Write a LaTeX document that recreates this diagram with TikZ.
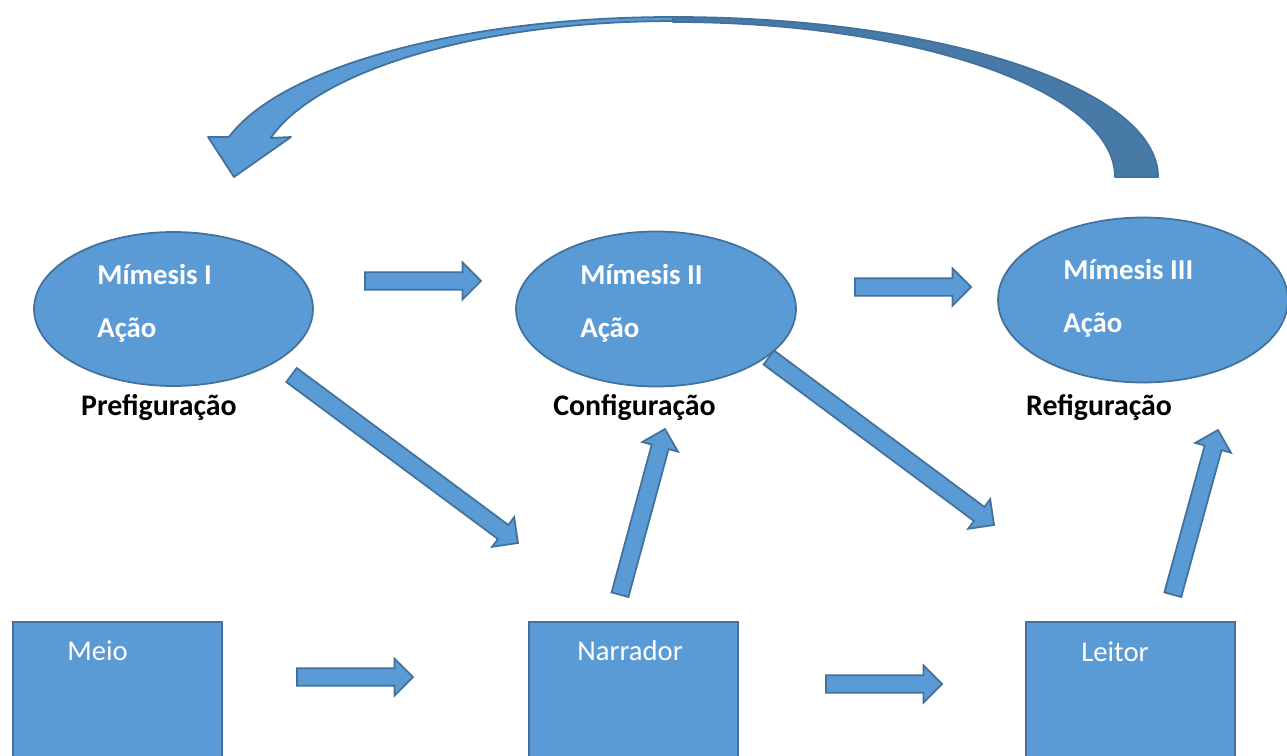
\documentclass[tikz,border=0pt]{standalone}
\usepackage{fontspec}
\setmainfont{Carlito}
\usepackage{tikz}
\usetikzlibrary{positioning, calc, shapes.geometric}
\definecolor{OfficeBlue}{RGB}{91,155,213}
\definecolor{OfficeEdge}{RGB}{65,113,156}
\definecolor{OfficeBack}{RGB}{72,122,168}
\def\bsw{0.175cm}
\def\bhw{0.37cm}
\def\bhl{0.37cm}
\tikzset{
  mim/.style={ellipse, draw=OfficeEdge, line width=1pt, fill=OfficeBlue, inner sep=0pt},
  cbox/.style={rectangle, draw=OfficeEdge, line width=1pt, fill=OfficeBlue, inner sep=0pt,
    minimum width=4.18cm, minimum height=3.2cm, anchor=north west},
  mtxt/.style={anchor=base west, inner sep=0pt, text=white, font=\fontsize{16.4}{19}\selectfont\bfseries},
  btxt/.style={anchor=base west, inner sep=0pt, text=white, font=\fontsize{16.3}{19}\selectfont},
  phase/.style={anchor=base, inner sep=0pt, text=black, font=\fontsize{17}{20}\selectfont\bfseries},
  blockarr/.style={draw=OfficeEdge, line width=1pt, fill=OfficeBlue, line join=miter},
  bendfront/.style={draw=OfficeEdge, line width=1pt, fill=OfficeBlue, line join=round},
  bendback/.style={draw=OfficeEdge, line width=1pt, fill=OfficeBack, line join=round},
}
% block arrow from tail #1 to tip #2
\newcommand{\barrow}[2]{%
  \coordinate (bh) at ($(#2)!\bhl!(#1)$);
  \draw[blockarr] ($(#1)!\bsw!-90:(#2)$) -- ($(bh)!\bsw!-90:(#2)$) -- ($(bh)!\bhw!-90:(#2)$)
    -- (#2) -- ($(bh)!\bhw!90:(#2)$) -- ($(bh)!\bsw!90:(#2)$) -- ($(#1)!\bsw!90:(#2)$) -- cycle;}

\begin{document}
\begin{tikzpicture}[x=0.02cm, y=-0.02cm]
  \useasboundingbox (0,0) rectangle (1287,756);
  \clip (0,0) rectangle (1287,756);

  % mimesis ellipses
  \node[mim, minimum width=5.58cm, minimum height=3.08cm] (m1) at (173.5,309) {};
  \node[mim, minimum width=5.6cm, minimum height=3.1cm] (m2) at (656,309) {};
  \node[mim, minimum width=5.8cm, minimum height=3.3cm] (m3) at (1143,300) {};
  \node[mtxt] (m1a) at (97,285) {Mímesis I};
  \node[mtxt] (m1b) at (97,338) {Ação};
  \node[mtxt] (m2a) at (580,285) {Mímesis II};
  \node[mtxt] (m2b) at (580,338) {Ação};
  \node[mtxt] (m3a) at (1063,280) {Mímesis III};
  \node[mtxt] (m3b) at (1063,333) {Ação};

  \node[phase] (pre) at (159,416) {Prefiguração};
  \node[phase] (con) at (634.5,416) {Configuração};
  \node[phase] (ref) at (1099,416) {Refiguração};

  % bottom boxes
  \node[cbox] (meio) at (12,621) {};
  \node[cbox] (narr) at (528,621) {};
  \node[cbox] (leit) at (1025,621) {};
  \node[btxt] (meiot) at (67,660) {Meio};
  \node[btxt] (narrt) at (577,660) {Narrador};
  \node[btxt] (leitt) at (1081,661) {Leitor};

  % block arrows
  \foreach \n/\xa/\ya/\xb/\yb in {t1/365/281/481/281, t2/855/287/971/287,
      b1/297/677/413/677, b2/826/684/942/684,
      d1/291.5/375/518/543, d2/620/594.7/665/429,
      d3/768.8/357.5/994/525, d4/1172.8/594.7/1218/430} {
    \coordinate (\n s) at (\xa,\ya);
    \coordinate (\n e) at (\xb,\yb);
    \barrow{\n s}{\n e}
  }

  % curved return arrow
  \coordinate (cb) at (673,177);
  \draw[bendback] (1158,177) arc[start angle=0, end angle=-90, x radius=485, y radius=160]
    -- (673,22) arc[start angle=-90, end angle=0, x radius=442, y radius=155] -- cycle;
  \draw[bendfront] (673,17) arc[start angle=-90, end angle=-165.5, x radius=458.6, y radius=160]
    -- (208,137) -- (234,177) -- (291,137) -- (270.7,138)
    arc[start angle=-165.5, end angle=-90, x radius=415.6, y radius=156] -- cycle;
\end{tikzpicture}
\end{document}
